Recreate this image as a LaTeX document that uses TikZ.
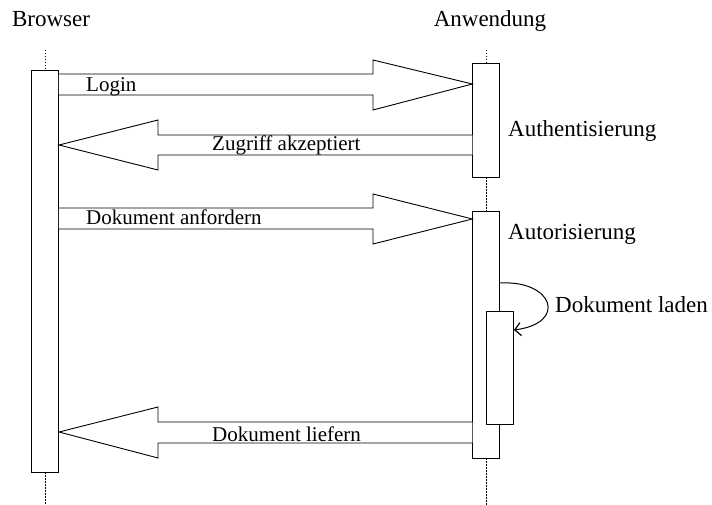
\documentclass[tikz,border=0pt]{standalone}
\usepackage{fontspec}
\setmainfont{Liberation Serif}
\usetikzlibrary{arrows.meta,calc}
\begin{document}
\begin{tikzpicture}[x=1pt,y=-1pt,
  act/.style={draw, fill=white, line width=0.9pt, inner sep=0pt, minimum width=27pt},
  life/.style={line width=0.9pt, dash pattern=on 1.5pt off 1.5pt},
  blk/.style={draw, line width=0.9pt, line join=miter, fill=white},
  big/.style={font=\fontsize{23}{27}\selectfont, inner sep=0pt},
  small/.style={font=\fontsize{21}{25}\selectfont, inner sep=0pt}]
\useasboundingbox (0,0) rectangle (712,505);
% headers
\node[big, anchor=base] (hb) at (51,27) {Browser};
\node[big, anchor=base] (ha) at (490,27) {Anwendung};
% activation boxes
\node[act, minimum height=402pt] (b) at (45,271) {};
\node[act, minimum height=114pt] (a1) at (486.3,120) {};
\node[act, minimum height=247pt] (a2) at (486.3,334.5) {};
\node[act, minimum height=113pt] (a3) at (500,367.5) {};
% lifelines
\coordinate (bt) at (45,50);
\coordinate (bb) at (45,505);
\coordinate (at) at (486.3,50);
\coordinate (ab) at (486.3,505);
\draw[life] (bt) -- (b.north);
\draw[life] (b.south) -- (bb);
\draw[life] (at) -- (a1.north);
\draw[life] (a1.south) -- (a2.north);
\draw[life] (a2.south) -- (ab);
% block arrows
\draw[blk] (b.east |- 0,74) -- (373,74) -- (373,60) -- (a1.west |- 0,84) -- (373,110) -- (373,95) -- (b.east |- 0,95);
\draw[blk] (a1.west |- 0,135) -- (158,135) -- (158,120) -- (b.east |- 0,145) -- (158,170) -- (158,155) -- (a1.west |- 0,155);
\draw[blk] (b.east |- 0,208) -- (373,208) -- (373,194) -- (a2.west |- 0,219) -- (373,244) -- (373,229) -- (b.east |- 0,229);
\draw[blk] (a2.west |- 0,422) -- (158,422) -- (158,407) -- (b.east |- 0,432) -- (158,458) -- (158,443) -- (a2.west |- 0,443);
% arrow labels
\node[small, anchor=base west] (l1) at (86,92) {Login};
\node[small, anchor=base west] (l2) at (212,151) {Zugriff akzeptiert};
\node[small, anchor=base west] (l3) at (86,225) {Dokument anfordern};
\node[small, anchor=base west] (l4) at (212,441) {Dokument liefern};
% self call
\draw[-{Straight Barb[length=6pt,width=13pt,line width=1.2pt]}, line width=1pt] (a2.east |- 0,283) .. controls (553,280) and (568,323) .. (a3.east |- 0,330);
% right labels
\node[big, anchor=base west] (r1) at (508,137) {Authentisierung};
\node[big, anchor=base west] (r2) at (508,240) {Autorisierung};
\node[big, anchor=base west] (r3) at (555,312) {Dokument laden};
\end{tikzpicture}
\end{document}
